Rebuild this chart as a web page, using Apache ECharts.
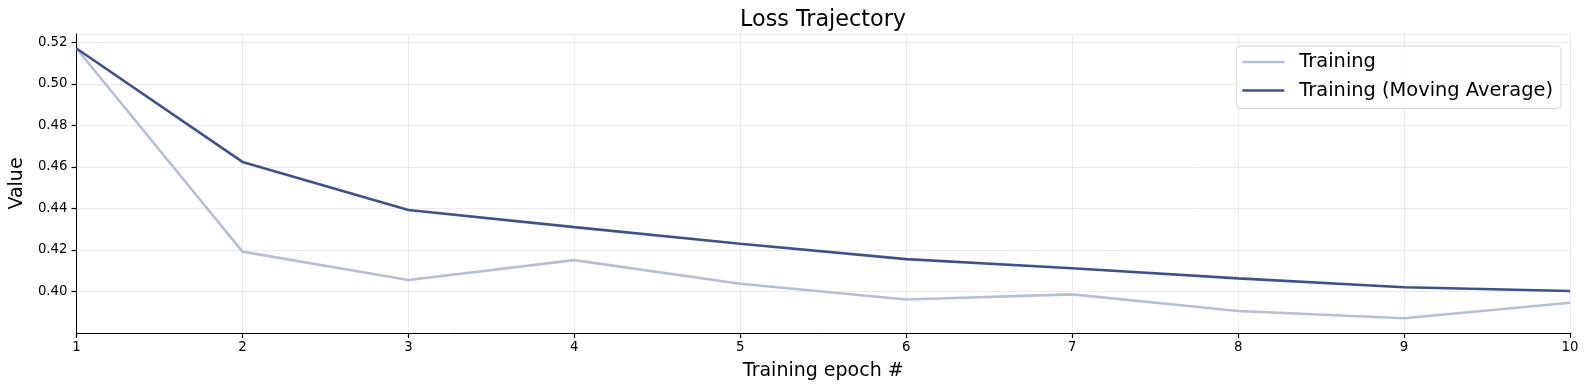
<!DOCTYPE html>
<html>
<head>
<meta charset="utf-8">
<script src="https://cdn.jsdelivr.net/npm/echarts@6/dist/echarts.min.js"></script>
<style>html,body{margin:0;padding:0;background:#fff;}#c{width:1589px;height:390px;}</style>
</head>
<body>
<div id="c"></div>
<script>
const epochs = [1, 2, 3, 4, 5, 6, 7, 8, 9, 10];
const training = [0.517, 0.4192, 0.4055, 0.4151, 0.4037, 0.3961, 0.3986, 0.3906, 0.3871, 0.3946];
const trainingMA = [0.517, 0.4624, 0.4392, 0.4310, 0.4230, 0.4156, 0.4112, 0.4063, 0.4020, 0.4002];
const seriesNames = ['Training', 'Training (Moving Average)'];

const font = 'DejaVu Sans';
const chart = echarts.init(document.getElementById('c'), null, {renderer: 'canvas'});
const pair = arr => epochs.map((e, i) => [e, arr[i]]);
chart.setOption({
  animation: false,
  backgroundColor: '#fff',
  title: {
    text: 'Loss Trajectory', left: 818, textAlign: 'center', top: 4,
    textStyle: {fontFamily: font, fontSize: 22.3, fontWeight: 'normal', color: '#000'}
  },
  grid: {left: 75, right: 19, top: 34, bottom: 57, containLabel: false},
  legend: {
    orient: 'vertical', right: 28, top: 46,
    data: seriesNames,
    icon: 'rect',
    itemWidth: 42, itemHeight: 2.6, itemGap: 6.5,
    padding: [5, 8, 7, 6],
    borderColor: '#d6d6d6', borderWidth: 1, borderRadius: 4,
    backgroundColor: 'rgba(255,255,255,0.8)',
    textStyle: {fontFamily: font, fontSize: 19.4, color: '#000', lineHeight: 22, padding: [0, 0, 0, 10]}
  },
  xAxis: {
    type: 'value', min: 1, max: 10, interval: 1,
    name: 'Training epoch #', nameLocation: 'middle', nameGap: 29,
    nameTextStyle: {fontFamily: font, fontSize: 19, color: '#000'},
    axisLine: {show: true, onZero: false, lineStyle: {color: '#000', width: 1}},
    axisTick: {show: true, length: 5, lineStyle: {color: '#000', width: 1.2}},
    axisLabel: {fontFamily: font, fontSize: 13.3, color: '#000', margin: 8},
    splitLine: {show: true, lineStyle: {color: '#ebebeb', width: 1}}
  },
  yAxis: {
    type: 'value', min: 0.38, max: 0.524, interval: 0.02,
    name: 'Value', nameLocation: 'middle', nameGap: 42,
    nameTextStyle: {fontFamily: font, fontSize: 19, color: '#000'},
    axisLine: {show: true, onZero: false, lineStyle: {color: '#000', width: 1}},
    axisTick: {show: true, length: 5, lineStyle: {color: '#000', width: 1.2}},
    axisLabel: {fontFamily: font, fontSize: 13.3, color: '#000', margin: 9, showMinLabel: false, showMaxLabel: false,
      formatter: v => v.toFixed(2)},
    splitLine: {show: true, lineStyle: {color: '#ebebeb', width: 1}}
  },
  series: [
    {name: seriesNames[0], type: 'line', data: pair(training), symbol: 'none',
      lineStyle: {color: '#b7bfd6', width: 2.6}, itemStyle: {color: '#b7bfd6'}, z: 2},
    {name: seriesNames[1], type: 'line', data: pair(trainingMA), symbol: 'none',
      lineStyle: {color: '#3f5189', width: 2.6}, itemStyle: {color: '#3f5189'}, z: 3}
  ]
});
</script>
</body>
</html>
